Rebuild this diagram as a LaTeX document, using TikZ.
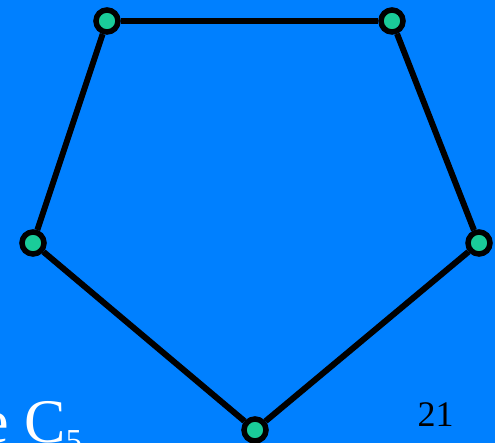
\documentclass[tikz,border=0pt]{standalone}
\usepackage{fontspec}
\setmainfont{Liberation Serif}
\usepackage{tikz}
\usetikzlibrary{positioning}
\definecolor{slideblue}{RGB}{0,128,255}
\definecolor{vteal}{RGB}{26,204,153}
\tikzset{
  cvtx/.style={circle,draw=black,fill=vteal,line width=5.5pt,minimum size=22pt,
    inner sep=0pt},
  cedge/.style={line width=6pt,black},
  titletxt/.style={font=\fontsize{62}{64}\selectfont,text=white,inner sep=0pt},
  pagenum/.style={font=\fontsize{36}{38}\selectfont,text=black,inner sep=0pt},
}

\begin{document}
\begin{tikzpicture}[x=1pt,y=-1pt]
  \fill[slideblue] (0,0) rectangle (495,443);
  \useasboundingbox (0,0) rectangle (495,443);
  % the cycle C5
  \node[cvtx] (a) at (107,21) {};
  \node[cvtx] (b) at (392,21) {};
  \node[cvtx] (c) at (479,243) {};
  \node[cvtx] (d) at (255,430) {};
  \node[cvtx] (e) at (33,243) {};
  \draw[cedge] (a)--(b);
  \draw[cedge] (b)--(c);
  \draw[cedge] (c)--(d);
  \draw[cedge] (d)--(e);
  \draw[cedge] (e)--(a);
  \node[titletxt,anchor=base west] (ttl) at (-18.7,442)
    {e C\raisebox{-9.6pt}{\fontsize{32}{34}\selectfont 5}};
  \node[pagenum,anchor=base] (pg) at (435.5,426) {21};
\end{tikzpicture}
\end{document}
